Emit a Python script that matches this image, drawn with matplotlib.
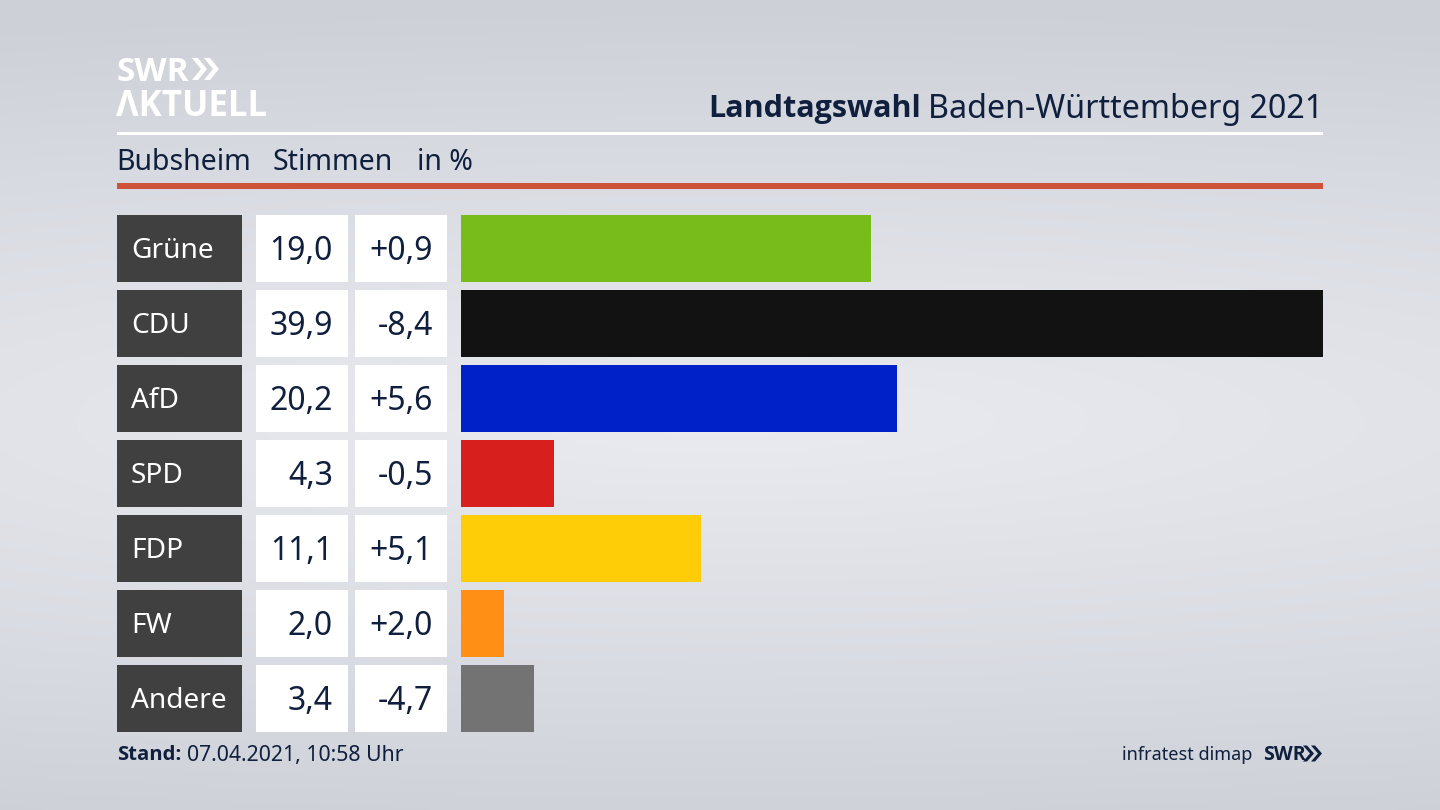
import numpy as np
import matplotlib
matplotlib.use("Agg")
import matplotlib.pyplot as plt
from matplotlib.patches import Rectangle, Polygon

parties = ["Grüne", "CDU", "AfD", "SPD", "FDP", "FW", "Andere"]
shares = [19.0, 39.9, 20.2, 4.3, 11.1, 2.0, 3.4]
share_labels = ["19,0", "39,9", "20,2", "4,3", "11,1", "2,0", "3,4"]
change_labels = ["+0,9", "-8,4", "+5,6", "-0,5", "+5,1", "+2,0", "-4,7"]
colors = ["#78bc1b", "#121212", "#0021c8", "#d71f1d", "#ffcc08", "#ff9015", "#737373"]

W, H = 1440, 810
NAVY = "#0f1f3d"
FONT = "Noto Sans"
BOLD = "Open Sans"
plt.rcParams["font.family"] = [FONT, "DejaVu Sans"]

fig = plt.figure(figsize=(14.4, 8.1), dpi=100)
bg = fig.add_axes([0, 0, 1, 1])
bg.set_xlim(0, W); bg.set_ylim(H, 0); bg.axis("off")

yy, xx = np.mgrid[0:1:162j, 0:1:288j]
d = np.sqrt(((yy - 0.52) / 0.52) ** 2 + (0.3 * (xx - 0.5) / 0.5) ** 2)
d = np.clip(d, 0, 1)[..., None]
inner = np.array([234, 235, 241]) / 255
outer = np.array([205, 209, 215]) / 255
bg.imshow(inner * (1 - d) + outer * d, extent=[0, W, H, 0], aspect="auto", zorder=0, interpolation="bilinear")
bg.set_xlim(0, W); bg.set_ylim(H, 0)

# header rules
bg.add_patch(Rectangle((117, 132), 1206, 3, fc="white", ec="none", zorder=2))
bg.add_patch(Rectangle((117, 183), 1206, 6, fc="#cc5238", ec="none", zorder=2))

# logo
bg.text(117, 72.5, "SWR", color="white", fontsize=24, fontweight="bold", va="center", ha="left", family=BOLD, zorder=3)
bg.text(116, 107, "ΛKTUELL", color="white", fontsize=25, fontweight="bold", va="center", ha="left", family=BOLD, zorder=3)
def chevrons(x, y, h, w, color, gap, thick):
    for k in range(2):
        x0 = x + k * gap
        bg.add_patch(Polygon([(x0, y - h/2), (x0 + thick, y - h/2), (x0 + thick + w, y), (x0 + thick, y + h/2), (x0, y + h/2), (x0 + w, y)],
                             closed=True, fc=color, ec="none", zorder=3))
chevrons(192, 69, 22, 9, "white", 12, 6)
chevrons(1303, 753.5, 16, 7, NAVY, 8, 4)

# title
bg.text(1323, 109, "Baden-Württemberg 2021", color=NAVY, fontsize=23.2, ha="right", va="center", zorder=3)
bg.text(921, 109, "Landtagswahl", color=NAVY, fontsize=22, fontweight="bold", ha="right", va="center", family=BOLD, zorder=3)

# subtitle
for x, s in [(116, "Bubsheim"), (273, "Stimmen"), (417, "in %")]:
    bg.text(x, 162.5, s, color=NAVY, fontsize=20.5, ha="left", va="center", zorder=3)

# table
TOP, PITCH, RH = 215, 75, 66.5
for i, (p, s, c) in enumerate(zip(parties, share_labels, change_labels)):
    y = TOP + i * PITCH
    yc = y + RH / 2
    bg.add_patch(Rectangle((117, y), 124.5, RH, fc="#404040", ec="none", zorder=2))
    bg.add_patch(Rectangle((255.5, y), 92.5, RH, fc="white", ec="none", zorder=2))
    bg.add_patch(Rectangle((354.5, y), 92.5, RH, fc="white", ec="none", zorder=2))
    bg.text(131, yc + 2.5, p, color="white", fontsize=20.2, ha="left", va="center", zorder=3)
    bg.text(333, yc + 3, s, color=NAVY, fontsize=23, ha="right", va="center", zorder=3)
    bg.text(433, yc + 3, c, color=NAVY, fontsize=23, ha="right", va="center", zorder=3)

# footer
bg.text(117, 755.5, "Stand:", color=NAVY, fontsize=14.6, fontweight="bold", ha="left", va="center", family=BOLD, zorder=3)
bg.text(187, 756, "07.04.2021, 10:58 Uhr", color=NAVY, fontsize=15.3, ha="left", va="center", zorder=3)
bg.text(1252, 755, "infratest dimap", color=NAVY, fontsize=13, ha="right", va="center", zorder=3)
bg.text(1263, 755, "SWR", color=NAVY, fontsize=14, fontweight="bold", ha="left", va="center", family=BOLD, zorder=3)

# bars
ax_top = TOP + RH / 2 - PITCH / 2
ax_h = PITCH * len(parties)
ax = fig.add_axes([461 / W, 1 - (ax_top + ax_h) / H, (1323 - 461) / W, ax_h / H])
ax.patch.set_alpha(0)
ax.barh(range(len(parties)), shares, height=RH / PITCH, color=colors, linewidth=0)
ax.set_xlim(0, max(shares))
ax.set_ylim(len(parties) - 0.5, -0.5)
ax.axis("off")

fig.savefig("out.png", dpi=100)
